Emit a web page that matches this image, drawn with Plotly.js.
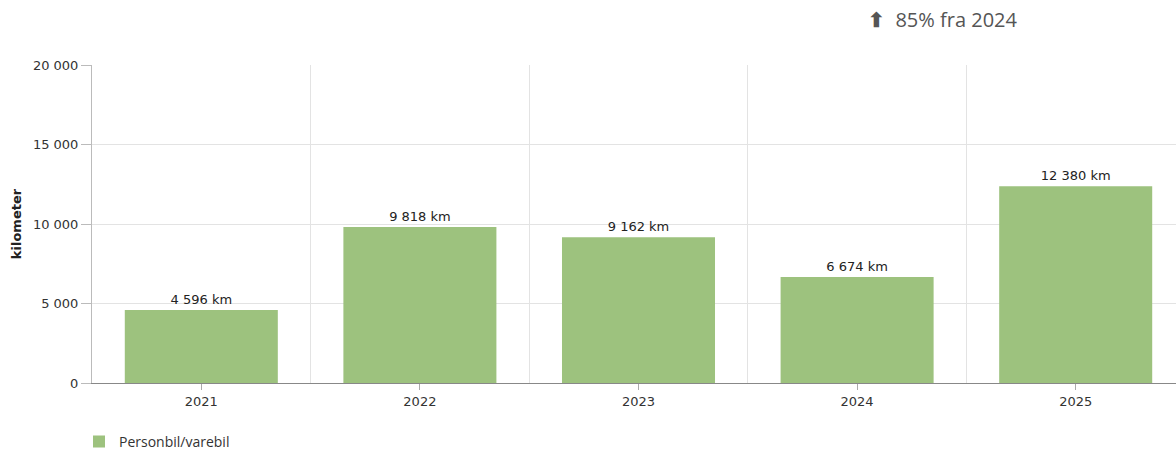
<!DOCTYPE html>
<html>
<head>
<meta charset="utf-8">
<script src="https://cdn.plot.ly/plotly-3.0.1.min.js"></script>
<style>
html,body{margin:0;padding:0;overflow:hidden;background:#fff;}
#chart{width:1200px;height:453px;}
</style>
</head>
<body>
<div id="chart"></div>
<script>
const years = ['2021','2022','2023','2024','2025'];
const kilometers = [4596, 9818, 9162, 6674, 12380];
const seriesName = 'Personbil/varebil';
const yTicks = [0, 5000, 10000, 15000, 20000];
const headerText = '85% fra 2024';

const xIdx = years.map((_, i) => i);
const boundaries = years.slice(1).map((_, i) => i + 0.5);

const traces = [
  {
    type: 'bar',
    x: xIdx,
    y: kilometers,
    name: seriesName,
    width: 0.7,
    marker: {color: 'rgb(157,194,126)'},
    texttemplate: '%{y:,} km',
    textposition: 'outside',
    cliponaxis: false,
    textfont: {family: 'DejaVu Sans', size: 13, color: '#222'},
    hoverinfo: 'skip'
  },
  {
    type: 'scatter',
    x: [boundaries[0]],
    y: [0],
    xaxis: 'x2',
    mode: 'markers',
    marker: {opacity: 0},
    showlegend: false,
    hoverinfo: 'skip'
  }
];

const layout = {
  width: 1200,
  height: 453,
  separators: ', ',
  margin: {l: 92, r: 15, t: 65, b: 70, autoexpand: false},
  paper_bgcolor: '#fff',
  plot_bgcolor: '#fff',
  font: {family: 'DejaVu Sans', size: 12, color: '#333'},
  xaxis: {
    range: [-0.5, years.length - 0.5],
    tickvals: xIdx,
    ticktext: years,
    showgrid: false,
    zeroline: false,
    showline: true,
    linecolor: '#888',
    linewidth: 1,
    ticks: 'outside',
    ticklen: 6,
    tickcolor: '#aaa',
    tickfont: {family: 'DejaVu Sans', size: 13, color: '#333'}
  },
  xaxis2: {
    overlaying: 'x',
    range: [-0.5, years.length - 0.5],
    tickvals: boundaries,
    showticklabels: false,
    showgrid: true,
    gridcolor: '#e3e3e3',
    zeroline: false,
    showline: false,
    ticks: ''
  },
  yaxis: {
    range: [0, 20000],
    tickvals: yTicks,
    tickformat: ',d',
    showgrid: true,
    gridcolor: '#e3e3e3',
    zeroline: false,
    showline: true,
    linecolor: '#bbb',
    ticks: 'outside',
    ticklen: 10,
    tickcolor: '#bbb',
    tickfont: {family: 'DejaVu Sans', size: 13, color: '#333'},
    title: {text: 'kilometer', font: {family: 'DejaVu Sans', size: 13, color: '#222', weight: 'bold'}, standoff: 8}
  },
  showlegend: true,
  legend: {
    orientation: 'h',
    x: 79 / 1200,
    xref: 'container',
    xanchor: 'left',
    y: 0.06,
    yref: 'container',
    yanchor: 'top',
    font: {family: 'Open Sans', size: 14, color: '#333'},
    itemwidth: 30,
    bgcolor: 'rgba(0,0,0,0)'
  },
  annotations: [
    {
      xref: 'paper', yref: 'paper',
      x: 0.779, y: 1.142,
      xanchor: 'center', yanchor: 'middle',
      showarrow: false,
      text: '<b>⬆</b>  ' + headerText,
      font: {family: 'Open Sans', size: 20, color: '#555'}
    }
  ]
};

Plotly.newPlot('chart', traces, layout, {displayModeBar: false, staticPlot: true});
</script>
</body>
</html>
